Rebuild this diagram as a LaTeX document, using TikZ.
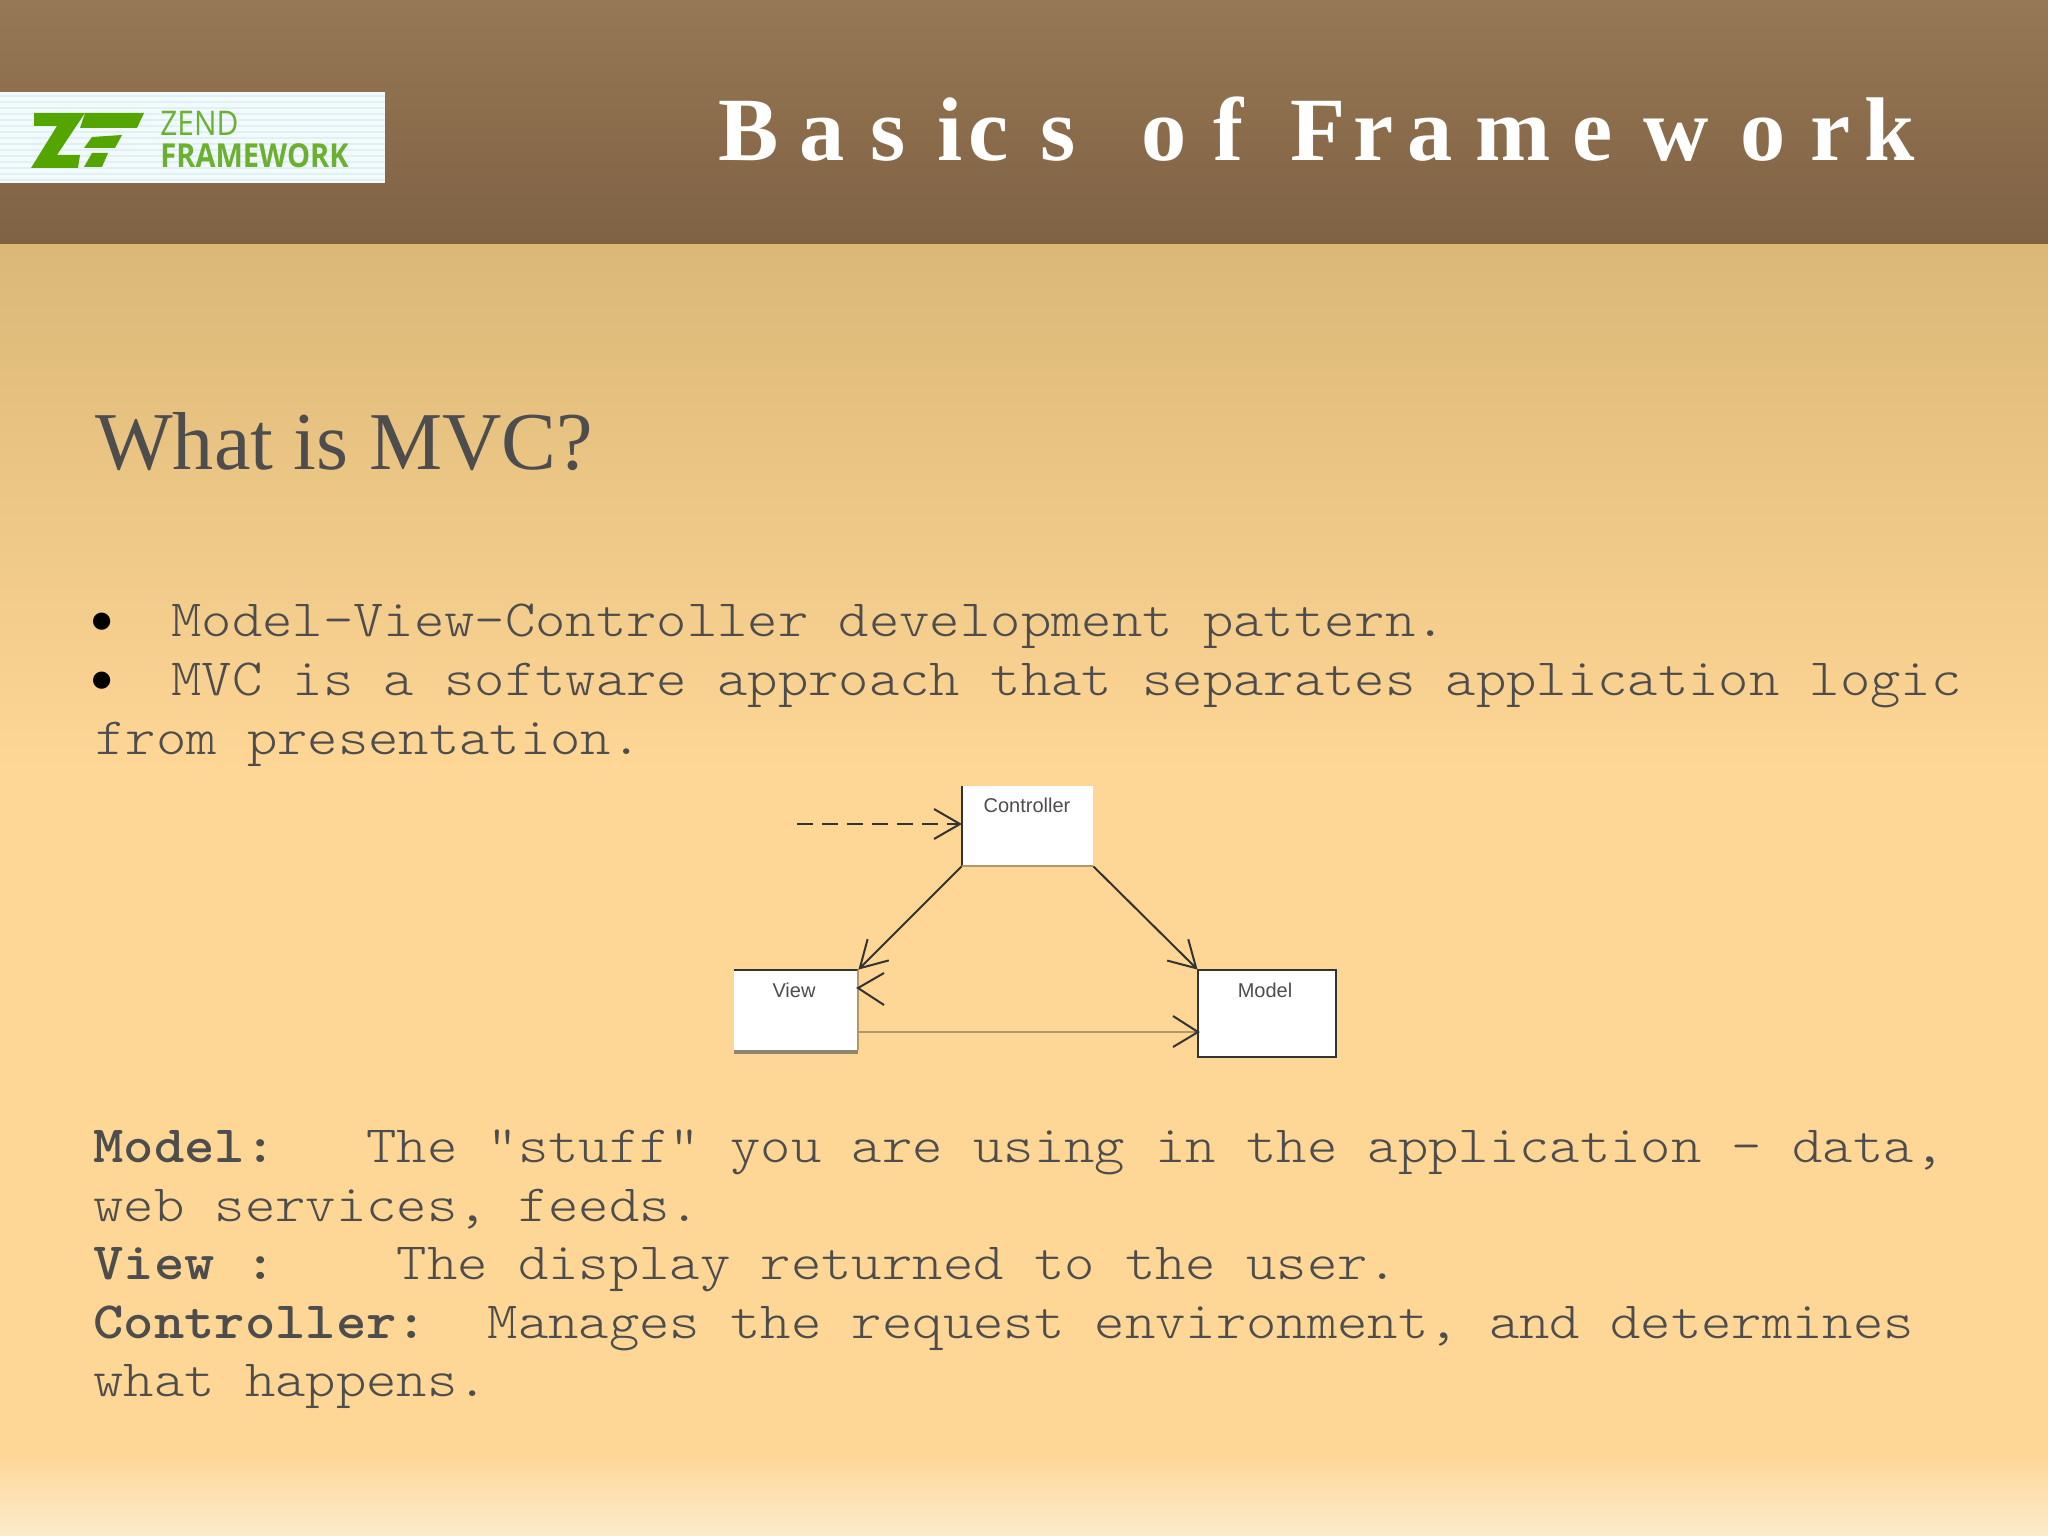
\documentclass[tikz,border=0pt]{standalone}
\usepackage{fontspec}
\setmainfont{Liberation Serif}
\setmonofont[FakeStretch=1.103]{Latin Modern Mono Light}
\setsansfont{Liberation Sans}
\newfontfamily\titlefont[Kerning=Off]{Liberation Serif}
\newfontfamily\logofont{Open Sans}
\newfontfamily\logonarrow[FakeStretch=0.88]{Open Sans}
\usetikzlibrary{arrows.meta}
\definecolor{hdtop}{HTML}{977854}
\definecolor{hdbot}{HTML}{7F6244}
\definecolor{bodytop}{HTML}{DBB877}
\definecolor{bodymid}{HTML}{FED695}
\definecolor{bodybot}{HTML}{FDEBCA}
\definecolor{inkgray}{HTML}{4D4D4D}
\definecolor{zgreen}{HTML}{55A500}
\definecolor{ztext}{HTML}{6CB030}
\definecolor{linedark}{HTML}{333333}
\definecolor{linetan}{HTML}{B09868}
\definecolor{shadowgray}{HTML}{8C8670}
\definecolor{logobg}{HTML}{F2FAFC}
\definecolor{logoline}{HTML}{E0F1F6}
\tikzset{
  bodytext/.style={anchor=base west,inner sep=0pt,text=inkgray,font=\ttfamily\fontsize{26.2pt}{30pt}\selectfont},
  bulletmark/.style={anchor=base west,inner sep=0pt,text=black,font=\fontsize{36pt}{36pt}\selectfont,text height=14pt,text depth=0pt},
  umlbox/.style={fill=white,inner sep=0pt,draw=none},
  umllabel/.style={inner sep=0pt,text=inkgray,font=\sffamily\fontsize{10pt}{12pt}\selectfont},
  conn/.style={draw=linedark,line width=1pt,-{Straight Barb[length=13pt,width=15pt,line width=1pt]}},
  conntan/.style={draw=linetan,line width=1pt},
  bar/.style={line width=1pt},
}
\begin{document}
\begin{tikzpicture}[x=0.5pt,y=-0.5pt]
\useasboundingbox (0,0) rectangle (2048,1535);
% backgrounds
\shade[top color=hdtop,bottom color=hdbot] (0,0) rectangle (2048,246);
\shade[top color=bodytop,bottom color=bodymid] (0,245) rectangle (2048,770);
\fill[bodymid] (0,769) rectangle (2048,1451);
\shade[top color=bodymid,bottom color=bodybot] (0,1450) rectangle (2048,1535);
% logo
\fill[logobg] (0,92) rectangle (385,183);
\foreach \yy in {96,102,...,180}{\draw[logoline,line width=0.6pt] (0,\yy) -- (385,\yy);}
\fill[zgreen] (34,113) -- (85,113) -- (57,155) -- (80,155) -- (78,168) -- (31,168) -- (57,126) -- (34,126) -- cycle;
\fill[zgreen] (85,113) -- (144,113) -- (137,128) -- (80,128) -- cycle;
\fill[zgreen] (92,137) -- (122,135) -- (115,148) -- (84,148) -- cycle;
\fill[zgreen] (92,153) -- (108,153) -- (102,167) -- (84,167) -- cycle;
\node[anchor=base west,inner sep=0pt,text=ztext,font=\logonarrow\fontsize{17pt}{18pt}\selectfont] (zend) at (160,136) {ZEND};
\node[anchor=base west,inner sep=0pt,text=ztext,font=\logonarrow\bfseries\fontsize{16.5pt}{18pt}\selectfont] (fw) at (160,168) {FRAMEWORK};
% title
\node[anchor=base west,inner sep=0pt,text=white,font=\titlefont\bfseries\fontsize{45.2pt}{56pt}\selectfont] (title) at (718,161) {B\kern10.5pt a\kern13pt s\kern16pt i\kern2.5pt c\kern16pt s\kern10.5pt\ \kern11pt o\kern13.5pt f\kern12pt\ \kern0pt F\kern4pt r\kern7pt a\kern11.5pt m\kern11pt e\kern15pt w\kern16pt o\kern12.75pt r\kern6.5pt k};
% heading
\node[anchor=base west,inner sep=0pt,text=inkgray,font=\fontsize{41.1pt}{50pt}\selectfont] (heading) at (95,469) {What is MVC?};
% bullets
\node[bulletmark] (b1) at (89,645) {•};
\node[bulletmark] (b2) at (89,704) {•};
\node[bodytext] (l1) at (171,636) {Model-View-Controller development pattern.};
\node[bodytext] (l2) at (171,695) {MVC is a software approach that separates application logic};
\node[bodytext] (l3) at (95,754) {from presentation.};
% lower text
\node[bodytext] (m1) at (93,1162) {\textbf{Model:}\ \ \ The "stuff" you are using in the application – data,};
\node[bodytext] (m2) at (93,1221) {web services, feeds.};
\node[bodytext] (v1) at (93,1279) {\textbf{View :}\ \ \ \ The display returned to the user.};
\node[bodytext] (c1) at (93,1338) {\textbf{Controller:}\ \ Manages the request environment, and determines};
\node[bodytext] (c2) at (93,1396) {what happens.};
% diagram
\node[umlbox,minimum width=65.5pt,minimum height=40pt] (ctrl) at (1027.5,826) {};
\node[umlbox,minimum width=62pt,minimum height=40pt] (view) at (796,1010) {};
\node[umlbox,minimum width=69pt,minimum height=43.5pt] (model) at (1267,1013.5) {};
\node[umllabel] (ctrltxt) at (1027,805) {Controller};
\node[umllabel] (viewtxt) at (794,990) {View};
\node[umllabel] (modeltxt) at (1265,990) {Model};
% box edges
\draw[bar,draw=linedark] (ctrl.north west) -- (ctrl.south west);
\draw[bar,draw=linetan] (ctrl.south west) -- (ctrl.south east);
\draw[bar,draw=linedark] (view.north west) -- (view.north east);
\draw[line width=2pt,draw=shadowgray] ([yshift=-1pt]view.south west) -- ([yshift=-1pt]view.south east);
\draw[bar,draw=linetan] (view.north east) -- (view.south east);
\draw[bar,draw=linedark] (model.north west) rectangle (model.south east);
% connectors
\coordinate (start) at (797,824);
\coordinate (ctrlin) at (962,824);
\draw[conn,dash pattern=on 8pt off 4.5pt] (start) -- (ctrlin);
\draw[conn] (ctrl.south west) -- (view.north east);
\draw[conn] (ctrl.south east) -- (model.north west);
\coordinate (vout) at (858,1032);
\coordinate (min) at (1198,1032);
\draw[conntan] (vout) -- (min);
\draw[draw=linedark,line width=1pt] (1173,1016) -- (min) -- (1173,1047);
\coordinate (vhead) at (858,988);
\coordinate (vb1) at (884,973);
\coordinate (vb2) at (884,1005);
\draw[draw=linedark,line width=1pt] (vb1) -- (vhead) -- (vb2);
\end{tikzpicture}
\end{document}
